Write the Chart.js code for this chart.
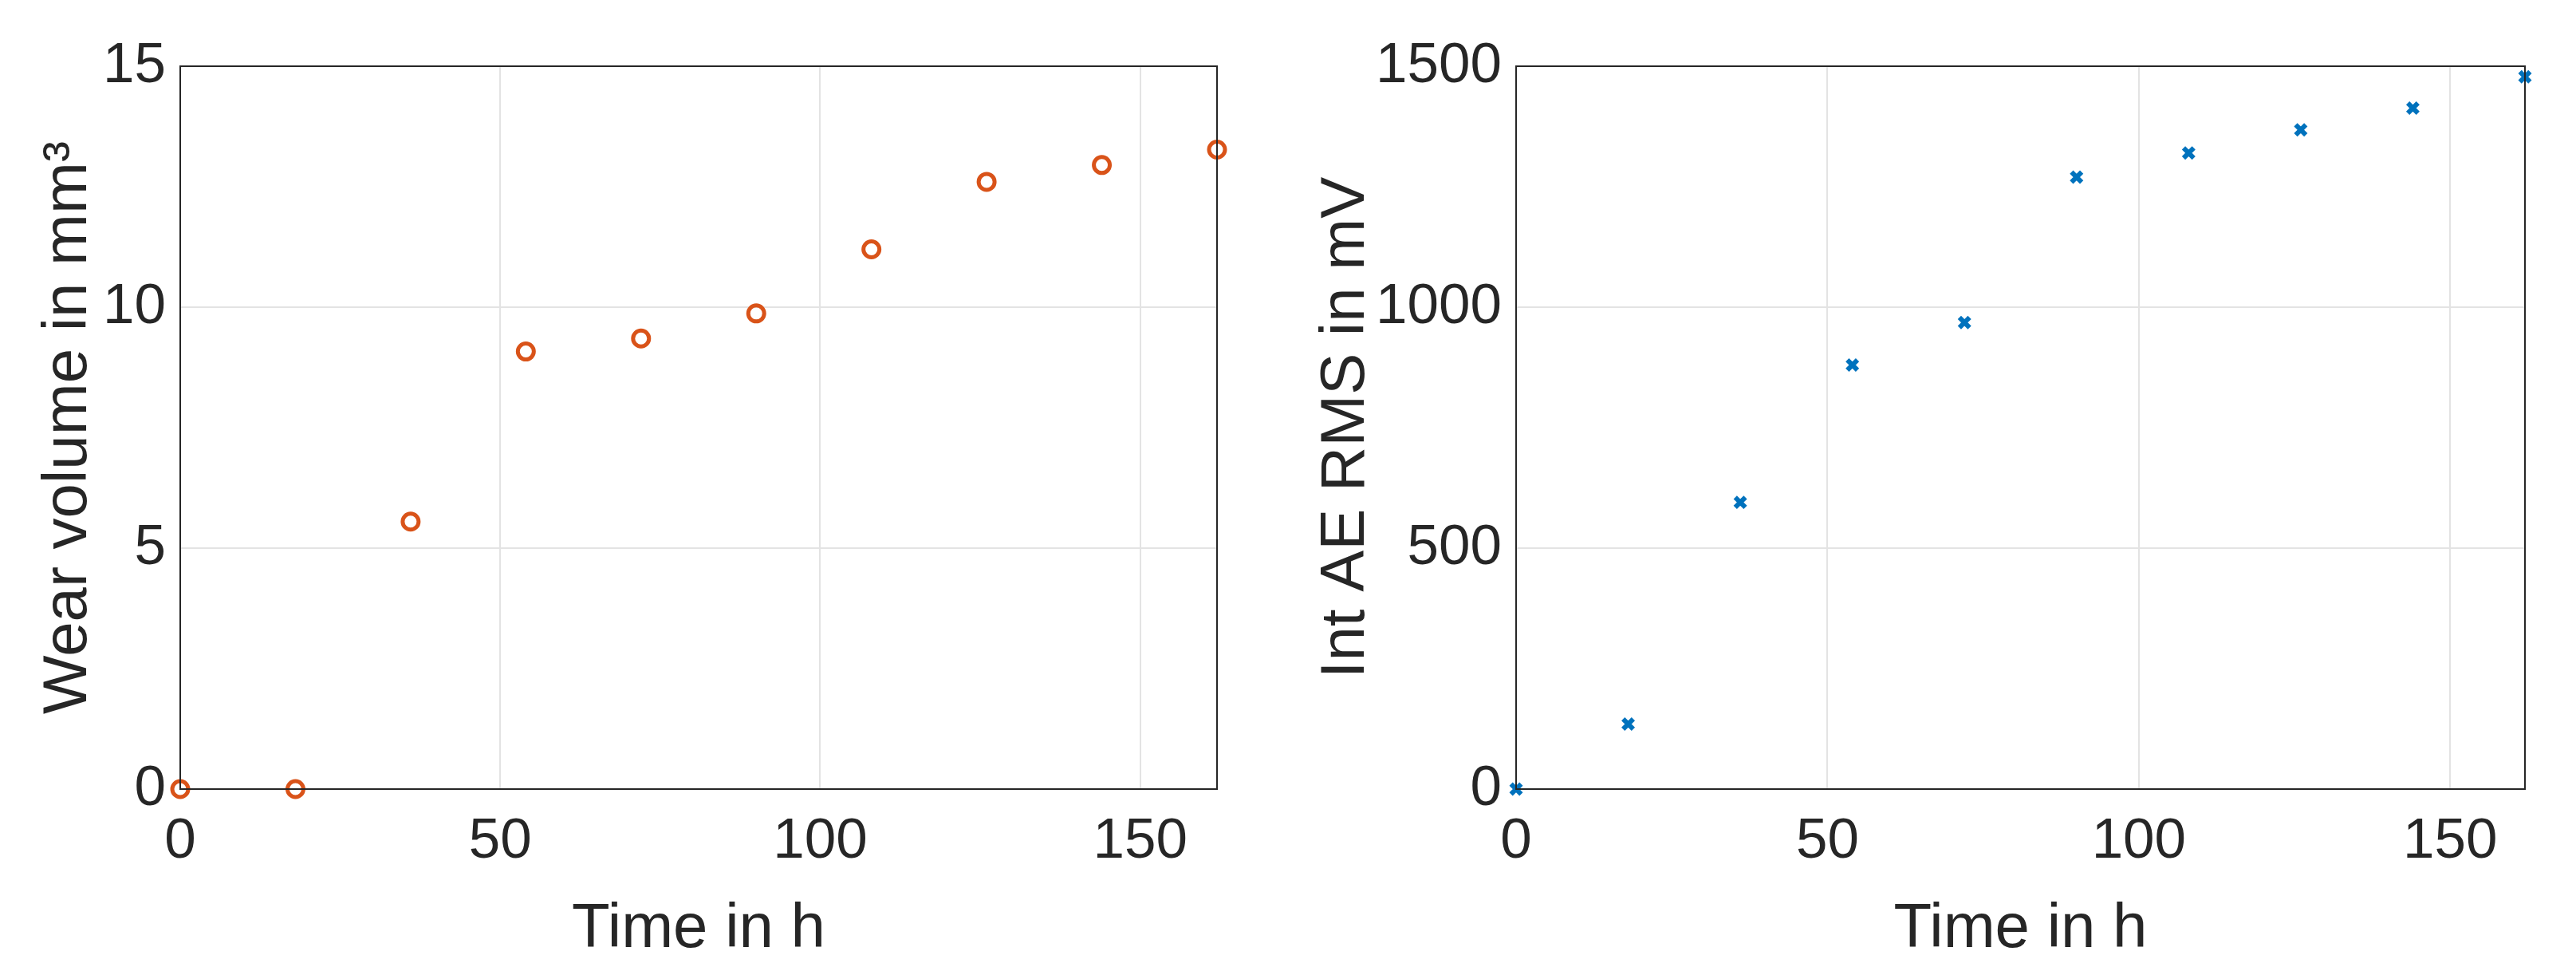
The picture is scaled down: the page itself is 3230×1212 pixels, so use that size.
<!DOCTYPE html>
<html>
<head>
<script src="https://cdn.jsdelivr.net/npm/chart.js@4"></script>
<style>
  body { margin: 0; background: #fff; }
  .box { position: absolute; top: 0; width: 1615px; height: 1212px; }
</style>
</head>
<body>
<div class="box" style="left:0"><canvas id="wearChart"></canvas></div>
<div class="box" style="left:1615px"><canvas id="aeChart"></canvas></div>
<script>
const timeHours = [0, 18, 36, 54, 72, 90, 108, 126, 144, 162];
const wearVolume = [0, 0, 5.55, 9.08, 9.35, 9.87, 11.2, 12.6, 12.95, 13.27];
const intAeRms = [0, 135, 595, 880, 968, 1270, 1320, 1368, 1413, 1478];
const xTicks = [0, 50, 100, 150];

const textColor = '#262626';
const fontFamily = '"Liberation Sans", Arial, sans-serif';

// draw the MATLAB-style box around the plot area
const boxPlugin = {
  id: 'box',
  afterDraw(chart) {
    const { ctx, chartArea: a } = chart;
    ctx.save();
    ctx.strokeStyle = textColor;
    ctx.lineWidth = 2;
    ctx.strokeRect(a.left, a.top, a.right - a.left, a.bottom - a.top);
    ctx.restore();
  }
};

function makeChart(canvas, values, opts) {
  return new Chart(canvas, {
    type: 'scatter',
    data: {
      datasets: [{
        data: timeHours.map((t, i) => ({ x: t, y: values[i] })),
        pointStyle: opts.pointStyle,
        pointRadius: opts.radius,
        borderColor: opts.color,
        backgroundColor: opts.fill,
        borderWidth: opts.lineWidth,
        clip: false
      }]
    },
    options: {
      responsive: true,
      maintainAspectRatio: false,
      animation: false,
      layout: { padding: { top: 83, right: opts.rightPad, left: 0, bottom: 0 } },
      plugins: { legend: { display: false }, tooltip: { enabled: false } },
      scales: {
        x: {
          type: 'linear', min: 0, max: 162,
          afterBuildTicks: s => { s.ticks = xTicks.map(v => ({ value: v })); },
          afterFit: s => { s.height = 223; },
          grid: { color: '#e3e3e3', lineWidth: 2, tickLength: 0 },
          border: { display: false },
          ticks: { color: textColor, font: { family: fontFamily, size: 71 }, padding: 24, maxRotation: 0 },
          title: { display: true, text: 'Time in h', color: textColor, font: { family: fontFamily, size: 78 }, padding: { top: 14, bottom: 0 } }
        },
        y: {
          min: 0, max: opts.yMax,
          afterBuildTicks: s => { s.ticks = opts.yTicks.map(v => ({ value: v })); },
          afterFit: s => { s.width = opts.leftWidth; },
          grid: { color: '#e3e3e3', lineWidth: 2, tickLength: 0 },
          border: { display: false },
          ticks: { color: textColor, font: { family: fontFamily, size: 71 }, padding: 18, callback: v => String(v) },
          title: { display: true, text: opts.yTitle, color: textColor, font: { family: fontFamily, size: 78 }, padding: { top: opts.titlePad, bottom: 0 } }
        }
      }
    },
    plugins: [boxPlugin]
  });
}

makeChart(document.getElementById('wearChart'), wearVolume, {
  pointStyle: 'circle', radius: 10, lineWidth: 5, color: '#D95319', fill: 'rgba(0,0,0,0)',
  yMax: 15, yTicks: [0, 5, 10, 15], yTitle: 'Wear volume in mm\u00B3',
  leftWidth: 226, rightPad: 89, titlePad: 40
});

makeChart(document.getElementById('aeChart'), intAeRms, {
  pointStyle: 'crossRot', radius: 9, lineWidth: 6, color: '#0072BD', fill: '#0072BD',
  yMax: 1500, yTicks: [0, 500, 1000, 1500], yTitle: 'Int AE RMS in mV',
  leftWidth: 286, rightPad: 64, titlePad: 27
});
</script>
</body>
</html>
